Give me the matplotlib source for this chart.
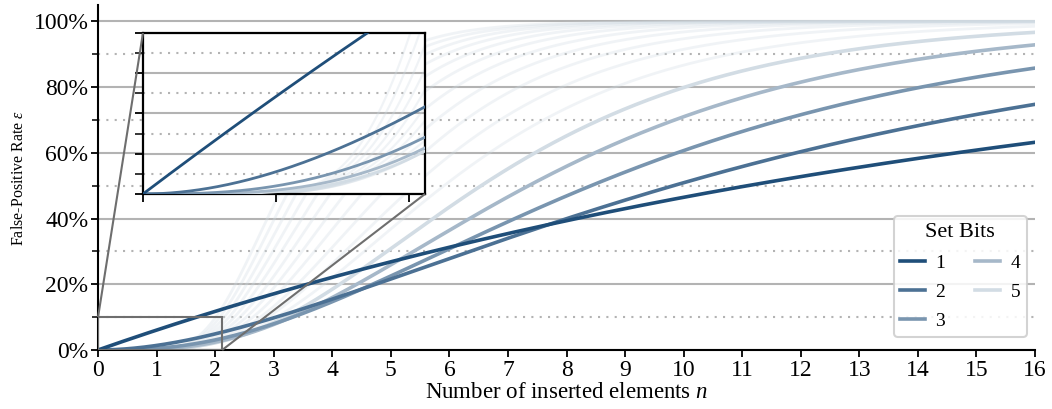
import numpy as np
import matplotlib
matplotlib.use("Agg")
import matplotlib.pyplot as plt
from matplotlib.ticker import PercentFormatter, MultipleLocator, NullFormatter
from mpl_toolkits.axes_grid1.inset_locator import mark_inset

# Bloom filter parameters: filter size m and number of set bits k per element
filter_bits = 16
set_bits = [1, 2, 3, 4, 5]
set_bit_colors = ["#1f4e79", "#4c7194", "#7995af", "#a6b8c9", "#d2dce4"]
background_set_bits = list(range(6, 17))
background_color = "#d2dce4"
x_ticks = list(range(0, 17))
y_major_ticks = [0.0, 0.2, 0.4, 0.6, 0.8, 1.0]
y_minor_ticks = [0.1, 0.3, 0.5, 0.7, 0.9]
inset_x_ticks = [0, 1, 2]
zoom_x_max = 2.12
zoom_y_max = 0.10


def false_positive_rate(n, k, m=filter_bits):
    return (1.0 - np.exp(-k * n / m)) ** k


plt.rcParams["font.family"] = ["Liberation Serif", "DejaVu Serif"]
plt.rcParams["mathtext.fontset"] = "custom"
plt.rcParams["mathtext.rm"] = "Liberation Serif"
plt.rcParams["mathtext.it"] = "Liberation Serif:italic"

fig = plt.figure(figsize=(10.52, 4.09), dpi=100)
ax = fig.add_axes([0.0932, 0.1443, 0.8906, 0.8435])

n = np.linspace(0, 16, 1601)

grid_color = "#b3b3b3"


def draw_curves(axis, lw_main, lw_bg):
    for k in background_set_bits:
        axis.plot(n, false_positive_rate(n, k), color=background_color,
                  alpha=0.32, lw=lw_bg, zorder=2)
    handles = {}
    for k, c in reversed(list(zip(set_bits, set_bit_colors))):
        (line,) = axis.plot(n, false_positive_rate(n, k), color=c, lw=lw_main,
                            zorder=3, label=str(k))
        handles[k] = line
    return [handles[k] for k in set_bits]


def style_grid(axis):
    axis.set_axisbelow(True)
    axis.grid(which="major", axis="y", color=grid_color, lw=1.5, ls="-")
    axis.grid(which="minor", axis="y", color=grid_color, lw=1.5, ls=(0, (1, 3)))


legend_handles = draw_curves(ax, 2.6, 2.0)
ax.set_xlim(0, 16)
ax.set_ylim(0, 1.05)
ax.set_xticks(x_ticks)
ax.set_yticks(y_major_ticks)
ax.set_yticks(y_minor_ticks, minor=True)
ax.yaxis.set_major_formatter(PercentFormatter(1.0, decimals=0))
style_grid(ax)
for side in ("top", "right"):
    ax.spines[side].set_visible(False)
for side in ("left", "bottom"):
    ax.spines[side].set_linewidth(1.5)
ax.tick_params(which="major", direction="out", length=5, width=1.3, labelsize=17, pad=2)
ax.tick_params(which="minor", direction="out", length=4, width=1.1)
ax.set_xlabel("Number of inserted elements $n$", fontsize=16.5, labelpad=1)
ax.set_ylabel(r"False-Positive Rate $\varepsilon$", fontsize=11.5, labelpad=5)

leg = ax.legend(handles=legend_handles, title="Set Bits", ncol=2, loc="lower right",
                bbox_to_anchor=(0.9915, 0.038), borderaxespad=0,
                fontsize=14, title_fontsize=16,
                handlelength=1.25, handletextpad=0.55, columnspacing=1.55,
                labelspacing=0.6, framealpha=0.85, edgecolor="#cccccc",
                fancybox=True, borderpad=0.35)
leg.get_frame().set_linewidth(1.5)

# zoomed view of the region close to the origin
axins = fig.add_axes([0.1359, 0.5257, 0.2681, 0.3936])
draw_curves(axins, 2.0, 1.6)
axins.set_xlim(0, zoom_x_max)
axins.set_ylim(0, zoom_y_max)
axins.set_xticks(inset_x_ticks)
axins.yaxis.set_major_locator(MultipleLocator(0.025))
axins.yaxis.set_minor_locator(MultipleLocator(0.0125))
axins.xaxis.set_major_formatter(NullFormatter())
axins.yaxis.set_major_formatter(NullFormatter())
style_grid(axins)
for side in axins.spines.values():
    side.set_linewidth(1.6)
axins.tick_params(which="major", direction="out", length=6, width=1.3)
axins.tick_params(which="minor", direction="out", length=6, width=1.1)
axins.set_facecolor("white")
axins.set_zorder(5)

mark_inset(ax, axins, loc1=2, loc2=4, fc="none", ec="#6e6e6e", lw=1.5, zorder=4)

fig.savefig("out.png", dpi=100)
